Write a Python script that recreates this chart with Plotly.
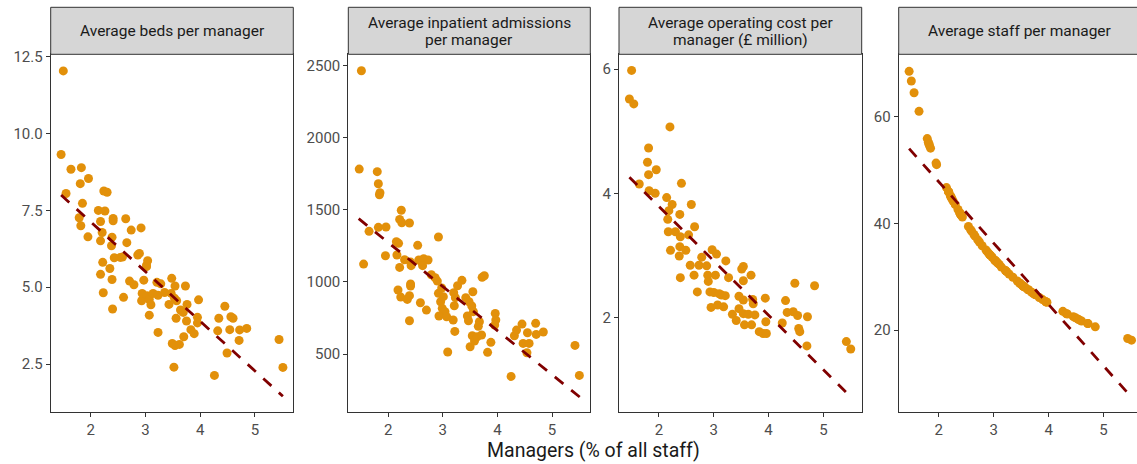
import plotly.graph_objects as go

# ---- data ----
managers_pct = [1.50, 1.46, 1.64, 1.55, 1.83, 1.81, 1.96, 1.85, 1.79, 1.82, 1.95,
                2.24, 2.30, 2.14, 2.26, 2.18, 2.21, 2.18, 2.41, 2.41, 2.39, 2.38,
                2.22, 2.18, 2.23, 2.35, 2.39, 2.40, 2.43, 2.54, 2.58, 2.60, 2.64,
                2.66, 2.74, 2.71, 2.79, 2.86, 2.89, 2.92, 2.97, 2.94, 2.93, 3.02,
                3.04, 3.02, 3.03, 3.07, 3.10, 3.07, 3.14, 3.21, 3.28, 3.23, 3.23,
                3.35, 3.43, 3.48, 3.54, 3.47, 3.53, 3.57, 3.49, 3.54, 3.62, 3.52,
                3.56, 3.64, 3.69, 3.73, 3.76, 3.75, 3.70, 3.83, 3.89, 3.95, 3.95,
                3.97, 4.26, 4.32, 4.34, 4.45, 4.49, 4.54, 4.56, 4.60, 4.71, 4.72,
                4.85, 5.44, 5.51]

beds_per_manager = [12.04, 9.32, 8.84, 8.05, 8.89, 8.37, 8.54, 7.73, 7.26, 7.00, 6.64,
                    8.13, 8.09, 7.50, 7.48, 7.14, 6.78, 6.51, 7.24, 7.16, 6.63, 6.35,
                    5.81, 5.42, 4.82, 5.61, 5.25, 4.29, 5.96, 5.97, 5.98, 4.67, 7.23,
                    6.45, 6.86, 5.20, 5.08, 6.05, 6.10, 6.93, 5.23, 4.80, 4.56, 5.72,
                    5.86, 5.67, 4.72, 4.60, 4.43, 4.09, 4.80, 5.16, 5.11, 4.74, 3.53,
                    4.83, 4.44, 5.29, 5.04, 4.80, 4.64, 4.56, 3.17, 3.10, 3.14, 2.40,
                    3.99, 4.26, 4.18, 5.04, 4.44, 3.90, 3.39, 3.62, 3.49, 4.02, 3.84,
                    4.59, 2.13, 3.58, 3.99, 4.38, 2.86, 3.62, 4.04, 3.99, 3.27, 3.61,
                    3.66, 3.30, 2.39]

staff_per_manager = [66.7, 68.5, 61.0, 64.5, 54.6, 55.2, 51.0, 54.1, 55.9, 54.9, 51.3,
                     44.6, 43.5, 46.7, 44.2, 45.9, 45.2, 45.9, 41.5, 41.5, 41.8, 42.0,
                     45.0, 45.9, 44.8, 42.6, 41.8, 41.7, 41.2, 39.4, 38.8, 38.5, 37.9,
                     37.6, 36.5, 36.9, 35.8, 35.0, 34.6, 34.2, 33.7, 34.0, 34.1, 33.1,
                     32.9, 33.1, 33.0, 32.6, 32.3, 32.6, 31.8, 31.2, 30.5, 31.0, 31.0,
                     29.9, 29.2, 28.7, 28.2, 28.8, 28.3, 28.0, 28.7, 28.2, 27.6, 28.4,
                     28.1, 27.5, 27.1, 26.8, 26.6, 26.7, 27.0, 26.1, 25.7, 25.3, 25.3,
                     25.2, 23.5, 23.1, 23.0, 22.5, 22.3, 22.0, 21.9, 21.7, 21.2, 21.2,
                     20.6, 18.4, 18.1]

adm_pct = [1.51, 1.47, 1.55, 1.65, 1.80, 1.82, 1.85, 1.84, 1.82, 1.96, 1.95, 2.24,
           2.21, 2.25, 2.39, 2.15, 2.19, 2.16, 2.30, 2.21, 2.41, 2.42, 2.54, 2.56,
           2.60, 2.65, 2.73, 2.63, 2.18, 2.23, 2.35, 2.39, 2.41, 2.41, 2.39, 2.59,
           2.70, 2.92, 2.79, 2.86, 2.90, 2.92, 2.98, 2.96, 3.01, 2.99, 3.04, 2.93,
           3.07, 3.09, 3.20, 3.21, 3.23, 3.19, 3.22, 3.27, 3.35, 3.42, 3.48, 3.55,
           3.53, 3.56, 3.45, 3.47, 3.50, 3.54, 3.58, 3.63, 3.67, 3.65, 3.72, 3.76,
           3.71, 3.82, 3.88, 3.96, 3.97, 3.95, 4.25, 4.31, 4.35, 4.45, 4.47, 4.55,
           4.54, 4.58, 4.70, 4.71, 4.84, 5.42, 5.50]
admissions_per_manager = [2465, 1783, 1124, 1351, 1765, 1681, 1619, 1605, 1379, 1381,
                          1182, 1497, 1434, 1411, 1409, 1279, 1268, 1187, 1154, 1101,
                          1138, 1113, 1254, 1152, 1145, 1161, 1152, 1113, 944, 895,
                          879, 905, 986, 972, 731, 856, 805, 1312, 1050, 1029, 1006,
                          921, 958, 863, 898, 817, 794, 764, 759, 514, 925, 835, 891,
                          736, 657, 974, 1011, 891, 863, 932, 833, 794, 764, 731, 551,
                          627, 590, 620, 724, 692, 1032, 1043, 632, 512, 581, 782, 736,
                          701, 345, 627, 666, 708, 574, 648, 509, 574, 713, 636, 653,
                          560, 352]

cost_pct = [1.50, 1.46, 1.54, 1.64, 1.81, 1.79, 1.81, 1.95, 1.82, 1.93, 2.20, 2.14,
            2.24, 2.18, 2.16, 2.17, 2.21, 2.41, 2.38, 2.30, 2.39, 2.38, 2.37, 2.49,
            2.54, 2.39, 2.59, 2.65, 2.57, 2.64, 2.70, 2.73, 2.78, 2.87, 2.89, 2.90,
            2.97, 3.05, 3.03, 2.93, 3.00, 2.95, 3.07, 3.14, 3.21, 3.18, 3.22, 3.27,
            3.34, 3.41, 3.46, 3.46, 3.51, 3.54, 3.54, 3.54, 3.54, 3.56, 3.63, 3.68,
            3.71, 3.72, 3.69, 3.75, 3.83, 3.94, 3.95, 3.90, 3.96, 4.25, 4.31, 4.34,
            4.45, 4.48, 4.53, 4.55, 4.57, 4.70, 4.71, 4.84, 5.42, 5.50, 3.10]
cost_per_manager = [5.98, 5.52, 5.44, 4.15, 4.73, 4.50, 4.30, 4.38, 4.04, 4.00, 5.07,
                    3.93, 3.82, 3.72, 3.58, 3.38, 3.08, 4.16, 3.66, 3.38, 3.30, 3.14,
                    2.99, 3.08, 3.33, 2.64, 3.82, 3.46, 2.84, 2.68, 2.41, 2.84, 2.97,
                    2.83, 2.68, 2.58, 3.09, 3.02, 2.68, 2.41, 2.40, 2.16, 2.20, 2.36,
                    2.35, 2.17, 2.91, 2.64, 2.05, 1.95, 2.34, 2.14, 2.78, 2.82, 2.59,
                    2.28, 2.06, 1.88, 2.05, 2.68, 2.29, 2.22, 1.88, 2.04, 1.77, 2.31,
                    1.93, 1.74, 1.74, 1.91, 2.27, 2.08, 2.09, 2.55, 2.03, 1.82, 1.77,
                    1.54, 2.01, 2.51, 1.61, 1.49, 2.38]

# linear trend lines (end points)
trend_pct = [1.46, 5.51]
trend_beds = [8.00, 1.45]
trend_adm = [1439, 201]
trend_cost = [4.26, 0.71]
trend_staff = [54.0, 7.4]

panel_titles = [["Average beds per manager"],
                ["Average inpatient admissions", "per manager"],
                ["Average operating cost per", "manager (\u00a3 million)"],
                ["Average staff per manager"]]
x_ticks = [2, 3, 4, 5]
y_ticks = [[2.5, 5.0, 7.5, 10.0, 12.5], [500, 1000, 1500, 2000, 2500], [2, 4, 6], [20, 40, 60]]
y_ticktext = [["2.5", "5.0", "7.5", "10.0", "12.5"], ["500", "1000", "1500", "2000", "2500"],
              ["2", "4", "6"], ["20", "40", "60"]]
x_title = "Managers (% of all staff)"

# ---- styling / layout ----
W, H = 1137, 464
POINT = "#E2900A"
TREND = "#800000"
FONT = "Roboto"
plot_top_px, plot_bot_px = 54.3, 412.3
strip_top_px = 7.3
panel_px = [(50.7, 293.3), (348.3, 590.3), (619.0, 861.7), (898.7, 1141.3)]
x_ranges = [[1.27, 5.70], [1.27, 5.70], [1.27, 5.70], [1.27, 5.61]]
y_ranges = [[0.93, 12.58], [96, 2579], [0.47, 6.24], [4.57, 71.7]]

series = [(managers_pct, beds_per_manager, trend_beds),
          (adm_pct, admissions_per_manager, trend_adm),
          (cost_pct, cost_per_manager, trend_cost),
          (managers_pct, staff_per_manager, trend_staff)]

fig = go.Figure()
shapes, annotations = [], []
ydom = [1 - plot_bot_px / H, 1 - plot_top_px / H]
for i, (xs, ys, tr) in enumerate(series):
    k = "" if i == 0 else str(i + 1)
    fig.add_trace(go.Scatter(x=xs, y=ys, mode="markers", xaxis="x" + k, yaxis="y" + k,
                             marker=dict(size=9, color=POINT, line=dict(width=0)),
                             showlegend=False, hoverinfo="skip"))
    fig.add_trace(go.Scatter(x=trend_pct, y=tr, mode="lines", xaxis="x" + k, yaxis="y" + k,
                             line=dict(color=TREND, width=2.8, dash="11px,10px"),
                             showlegend=False, hoverinfo="skip"))
    x0, x1 = panel_px[i]
    dom_end = min(x1, W) / W
    common = dict(showgrid=False, zeroline=False, showline=True, linecolor="#333333",
                  linewidth=1, ticks="outside", ticklen=4, tickcolor="#333333", tickwidth=1,
                  tickfont=dict(family=FONT, size=15, color="#4D4D4D"))
    fig.layout["xaxis" + k] = dict(domain=[x0 / W, dom_end], range=x_ranges[i], anchor="y" + k,
                                   tickvals=x_ticks, mirror=True, **common)
    fig.layout["yaxis" + k] = dict(domain=ydom, range=y_ranges[i], anchor="x" + k,
                                   tickvals=y_ticks[i], ticktext=y_ticktext[i],
                                   mirror=(i < 3), **common)
    # strip
    shapes.append(dict(type="rect", xref="paper", yref="paper", x0=x0 / W, x1=x1 / W,
                       y0=1 - plot_top_px / H, y1=1 - strip_top_px / H,
                       fillcolor="#D6D6D6", line=dict(color="#333333", width=1), layer="above"))
    cx = (x0 + x1) / 2 / W
    lines = panel_titles[i]
    if len(lines) == 1:
        ys_txt = [31.0]
    else:
        ys_txt = [23.0, 40.0]
    for t, yp in zip(lines, ys_txt):
        annotations.append(dict(text=t, x=cx, y=1 - yp / H, xref="paper", yref="paper",
                                showarrow=False, xanchor="center", yanchor="middle",
                                font=dict(family=FONT, size=15.5, color="#1A1A1A")))

annotations.append(dict(text=x_title, x=593.5 / W, y=1 - 450 / H, xref="paper", yref="paper",
                        showarrow=False, xanchor="center", yanchor="middle",
                        font=dict(family=FONT, size=19.5, color="#1A1A1A")))

fig.update_layout(width=W, height=H, margin=dict(l=0, r=0, t=0, b=0, autoexpand=False),
                  paper_bgcolor="white", plot_bgcolor="white",
                  shapes=shapes, annotations=annotations,
                  font=dict(family=FONT))
fig.write_html("out.html", config={"displayModeBar": False},
               post_script="document.body.style.margin='0';document.body.style.overflow='hidden';")
